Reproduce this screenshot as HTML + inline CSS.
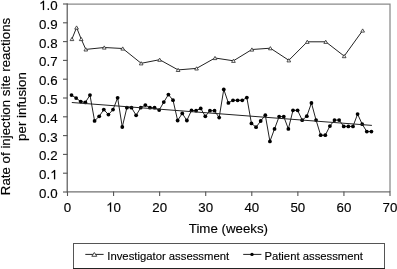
<!DOCTYPE html>
<html><head><meta charset="utf-8"><style>
html,body{margin:0;padding:0;background:#fff;}
body{width:397px;height:269px;overflow:hidden;}
svg{display:block;will-change:transform;}
.t{font-family:"Liberation Sans",sans-serif;font-size:13.3px;fill:#000;stroke:#000;stroke-width:0.15px;}
.l{font-family:"Liberation Sans",sans-serif;font-size:11.3px;fill:#000;stroke:#000;stroke-width:0.12px;}
</style></head><body>
<svg width="397" height="269" viewBox="0 0 397 269">
<path d="M67.2 4H390V191.9" fill="none" stroke="#8a8a8a" stroke-width="1.25"/>
<path d="M67.2 191.9H390" fill="none" stroke="#707070" stroke-width="1.3"/>
<path d="M67.2 3.4V192.5" fill="none" stroke="#505050" stroke-width="1.15"/>
<path d="M63 192.00H67.5" stroke="#555" stroke-width="1.1"/>
<path d="M63 173.20H67.5" stroke="#555" stroke-width="1.1"/>
<path d="M63 154.40H67.5" stroke="#555" stroke-width="1.1"/>
<path d="M63 135.60H67.5" stroke="#555" stroke-width="1.1"/>
<path d="M63 116.80H67.5" stroke="#555" stroke-width="1.1"/>
<path d="M63 98.00H67.5" stroke="#555" stroke-width="1.1"/>
<path d="M63 79.20H67.5" stroke="#555" stroke-width="1.1"/>
<path d="M63 60.40H67.5" stroke="#555" stroke-width="1.1"/>
<path d="M63 41.60H67.5" stroke="#555" stroke-width="1.1"/>
<path d="M63 22.80H67.5" stroke="#555" stroke-width="1.1"/>
<path d="M63 4.00H67.5" stroke="#555" stroke-width="1.1"/>
<path d="M67.50 191.5V196" stroke="#555" stroke-width="1.1"/>
<path d="M113.57 191.5V196" stroke="#555" stroke-width="1.1"/>
<path d="M159.64 191.5V196" stroke="#555" stroke-width="1.1"/>
<path d="M205.71 191.5V196" stroke="#555" stroke-width="1.1"/>
<path d="M251.79 191.5V196" stroke="#555" stroke-width="1.1"/>
<path d="M297.86 191.5V196" stroke="#555" stroke-width="1.1"/>
<path d="M343.93 191.5V196" stroke="#555" stroke-width="1.1"/>
<path d="M390.00 191.5V196" stroke="#555" stroke-width="1.1"/>
<text x="39.111" y="198.000" class="t">0</text><text x="46.508" y="198.000" class="t">.</text><text x="50.203" y="198.000" class="t">0</text>
<text x="39.111" y="179.200" class="t">0</text><text x="46.508" y="179.200" class="t">.</text><path transform="translate(50.203,179.200) scale(0.006494,-0.006494)" d="M763 0L583 0L583 1147L500 1075L380 1000L223 930L223 1104L370 1180L480 1270L560 1370L614 1425L763 1425Z" fill="#000" stroke="#000" stroke-width="23.1"/>
<text x="39.111" y="160.400" class="t">0</text><text x="46.508" y="160.400" class="t">.</text><text x="50.203" y="160.400" class="t">2</text>
<text x="39.111" y="141.600" class="t">0</text><text x="46.508" y="141.600" class="t">.</text><text x="50.203" y="141.600" class="t">3</text>
<text x="39.111" y="122.800" class="t">0</text><text x="46.508" y="122.800" class="t">.</text><text x="50.203" y="122.800" class="t">4</text>
<text x="39.111" y="104.000" class="t">0</text><text x="46.508" y="104.000" class="t">.</text><text x="50.203" y="104.000" class="t">5</text>
<text x="39.111" y="85.200" class="t">0</text><text x="46.508" y="85.200" class="t">.</text><text x="50.203" y="85.200" class="t">6</text>
<text x="39.111" y="66.400" class="t">0</text><text x="46.508" y="66.400" class="t">.</text><text x="50.203" y="66.400" class="t">7</text>
<text x="39.111" y="47.600" class="t">0</text><text x="46.508" y="47.600" class="t">.</text><text x="50.203" y="47.600" class="t">8</text>
<text x="39.111" y="28.800" class="t">0</text><text x="46.508" y="28.800" class="t">.</text><text x="50.203" y="28.800" class="t">9</text>
<path transform="translate(39.111,10.000) scale(0.006494,-0.006494)" d="M763 0L583 0L583 1147L500 1075L380 1000L223 930L223 1104L370 1180L480 1270L560 1370L614 1425L763 1425Z" fill="#000" stroke="#000" stroke-width="23.1"/><text x="46.508" y="10.000" class="t">.</text><text x="50.203" y="10.000" class="t">0</text>
<text x="63.802" y="211.800" class="t">0</text>
<path transform="translate(106.175,211.800) scale(0.006494,-0.006494)" d="M763 0L583 0L583 1147L500 1075L380 1000L223 930L223 1104L370 1180L480 1270L560 1370L614 1425L763 1425Z" fill="#000" stroke="#000" stroke-width="23.1"/><text x="113.571" y="211.800" class="t">0</text>
<text x="152.246" y="211.800" class="t">2</text><text x="159.643" y="211.800" class="t">0</text>
<text x="198.317" y="211.800" class="t">3</text><text x="205.714" y="211.800" class="t">0</text>
<text x="244.389" y="211.800" class="t">4</text><text x="251.786" y="211.800" class="t">0</text>
<text x="290.460" y="211.800" class="t">5</text><text x="297.857" y="211.800" class="t">0</text>
<text x="336.532" y="211.800" class="t">6</text><text x="343.929" y="211.800" class="t">0</text>
<text x="382.603" y="211.800" class="t">7</text><text x="390.000" y="211.800" class="t">0</text>
<text x="228.4" y="233.2" text-anchor="middle" class="t">Time (weeks)</text>
<text transform="translate(10.4,106.5) rotate(-90)" text-anchor="middle" class="t">Rate of injection site reactions</text>
<text transform="translate(25.7,106.5) rotate(-90)" text-anchor="middle" class="t">per infusion</text>
<polyline points="71.96,39.00 76.58,27.50 81.19,39.00 85.81,49.40 104.26,47.50 122.72,48.50 141.17,63.30 159.63,59.70 178.09,69.90 196.54,68.40 215.00,58.00 233.45,60.80 251.91,49.50 270.37,48.20 288.82,60.30 307.28,41.80 325.73,41.80 344.19,56.10 362.65,30.50" fill="none" stroke="#222" stroke-width="1"/>
<path d="M70.11 40.60L71.96 37.40L73.81 40.60Z" fill="#fff" stroke="#333" stroke-width="0.85"/>
<path d="M74.73 29.10L76.58 25.90L78.43 29.10Z" fill="#fff" stroke="#333" stroke-width="0.85"/>
<path d="M79.34 40.60L81.19 37.40L83.04 40.60Z" fill="#fff" stroke="#333" stroke-width="0.85"/>
<path d="M83.96 51.00L85.81 47.80L87.66 51.00Z" fill="#fff" stroke="#333" stroke-width="0.85"/>
<path d="M102.41 49.10L104.26 45.90L106.11 49.10Z" fill="#fff" stroke="#333" stroke-width="0.85"/>
<path d="M120.87 50.10L122.72 46.90L124.57 50.10Z" fill="#fff" stroke="#333" stroke-width="0.85"/>
<path d="M139.32 64.90L141.17 61.70L143.02 64.90Z" fill="#fff" stroke="#333" stroke-width="0.85"/>
<path d="M157.78 61.30L159.63 58.10L161.48 61.30Z" fill="#fff" stroke="#333" stroke-width="0.85"/>
<path d="M176.24 71.50L178.09 68.30L179.94 71.50Z" fill="#fff" stroke="#333" stroke-width="0.85"/>
<path d="M194.69 70.00L196.54 66.80L198.39 70.00Z" fill="#fff" stroke="#333" stroke-width="0.85"/>
<path d="M213.15 59.60L215.00 56.40L216.85 59.60Z" fill="#fff" stroke="#333" stroke-width="0.85"/>
<path d="M231.60 62.40L233.45 59.20L235.30 62.40Z" fill="#fff" stroke="#333" stroke-width="0.85"/>
<path d="M250.06 51.10L251.91 47.90L253.76 51.10Z" fill="#fff" stroke="#333" stroke-width="0.85"/>
<path d="M268.52 49.80L270.37 46.60L272.22 49.80Z" fill="#fff" stroke="#333" stroke-width="0.85"/>
<path d="M286.97 61.90L288.82 58.70L290.67 61.90Z" fill="#fff" stroke="#333" stroke-width="0.85"/>
<path d="M305.43 43.40L307.28 40.20L309.13 43.40Z" fill="#fff" stroke="#333" stroke-width="0.85"/>
<path d="M323.88 43.40L325.73 40.20L327.58 43.40Z" fill="#fff" stroke="#333" stroke-width="0.85"/>
<path d="M342.34 57.70L344.19 54.50L346.04 57.70Z" fill="#fff" stroke="#333" stroke-width="0.85"/>
<path d="M360.80 32.10L362.65 28.90L364.50 32.10Z" fill="#fff" stroke="#333" stroke-width="0.85"/>
<polyline points="71.51,95.10 76.13,98.10 80.74,101.60 85.36,102.40 89.97,95.10 94.58,120.90 99.20,116.30 103.81,109.60 108.43,114.60 113.04,109.60 117.65,97.80 122.27,127.00 126.88,107.70 131.50,107.70 136.11,115.30 140.72,107.70 145.34,105.10 149.95,107.70 154.57,107.70 159.18,110.10 163.79,102.10 168.41,94.60 173.02,100.20 177.64,120.50 182.25,113.40 186.86,120.50 191.48,110.40 196.09,110.70 200.71,108.40 205.32,116.30 209.93,110.70 214.55,110.70 219.16,117.60 223.78,89.40 228.39,102.90 233.00,100.30 237.62,100.30 242.23,100.30 246.85,97.60 251.46,123.40 256.07,127.20 260.69,121.00 265.30,115.20 269.92,141.40 274.53,128.90 279.14,116.60 283.76,116.60 288.37,128.90 292.99,110.30 297.60,110.30 302.21,120.20 306.83,116.20 311.44,103.00 316.06,120.10 320.67,135.20 325.28,135.20 329.90,126.10 334.51,120.10 339.13,120.10 343.74,126.40 348.35,126.40 352.97,126.40 357.58,114.10 362.20,124.20 366.81,131.60 371.42,131.60" fill="none" stroke="#222" stroke-width="1"/>
<circle cx="71.51" cy="95.10" r="1.9" fill="#000"/>
<circle cx="76.13" cy="98.10" r="1.9" fill="#000"/>
<circle cx="80.74" cy="101.60" r="1.9" fill="#000"/>
<circle cx="85.36" cy="102.40" r="1.9" fill="#000"/>
<circle cx="89.97" cy="95.10" r="1.9" fill="#000"/>
<circle cx="94.58" cy="120.90" r="1.9" fill="#000"/>
<circle cx="99.20" cy="116.30" r="1.9" fill="#000"/>
<circle cx="103.81" cy="109.60" r="1.9" fill="#000"/>
<circle cx="108.43" cy="114.60" r="1.9" fill="#000"/>
<circle cx="113.04" cy="109.60" r="1.9" fill="#000"/>
<circle cx="117.65" cy="97.80" r="1.9" fill="#000"/>
<circle cx="122.27" cy="127.00" r="1.9" fill="#000"/>
<circle cx="126.88" cy="107.70" r="1.9" fill="#000"/>
<circle cx="131.50" cy="107.70" r="1.9" fill="#000"/>
<circle cx="136.11" cy="115.30" r="1.9" fill="#000"/>
<circle cx="140.72" cy="107.70" r="1.9" fill="#000"/>
<circle cx="145.34" cy="105.10" r="1.9" fill="#000"/>
<circle cx="149.95" cy="107.70" r="1.9" fill="#000"/>
<circle cx="154.57" cy="107.70" r="1.9" fill="#000"/>
<circle cx="159.18" cy="110.10" r="1.9" fill="#000"/>
<circle cx="163.79" cy="102.10" r="1.9" fill="#000"/>
<circle cx="168.41" cy="94.60" r="1.9" fill="#000"/>
<circle cx="173.02" cy="100.20" r="1.9" fill="#000"/>
<circle cx="177.64" cy="120.50" r="1.9" fill="#000"/>
<circle cx="182.25" cy="113.40" r="1.9" fill="#000"/>
<circle cx="186.86" cy="120.50" r="1.9" fill="#000"/>
<circle cx="191.48" cy="110.40" r="1.9" fill="#000"/>
<circle cx="196.09" cy="110.70" r="1.9" fill="#000"/>
<circle cx="200.71" cy="108.40" r="1.9" fill="#000"/>
<circle cx="205.32" cy="116.30" r="1.9" fill="#000"/>
<circle cx="209.93" cy="110.70" r="1.9" fill="#000"/>
<circle cx="214.55" cy="110.70" r="1.9" fill="#000"/>
<circle cx="219.16" cy="117.60" r="1.9" fill="#000"/>
<circle cx="223.78" cy="89.40" r="1.9" fill="#000"/>
<circle cx="228.39" cy="102.90" r="1.9" fill="#000"/>
<circle cx="233.00" cy="100.30" r="1.9" fill="#000"/>
<circle cx="237.62" cy="100.30" r="1.9" fill="#000"/>
<circle cx="242.23" cy="100.30" r="1.9" fill="#000"/>
<circle cx="246.85" cy="97.60" r="1.9" fill="#000"/>
<circle cx="251.46" cy="123.40" r="1.9" fill="#000"/>
<circle cx="256.07" cy="127.20" r="1.9" fill="#000"/>
<circle cx="260.69" cy="121.00" r="1.9" fill="#000"/>
<circle cx="265.30" cy="115.20" r="1.9" fill="#000"/>
<circle cx="269.92" cy="141.40" r="1.9" fill="#000"/>
<circle cx="274.53" cy="128.90" r="1.9" fill="#000"/>
<circle cx="279.14" cy="116.60" r="1.9" fill="#000"/>
<circle cx="283.76" cy="116.60" r="1.9" fill="#000"/>
<circle cx="288.37" cy="128.90" r="1.9" fill="#000"/>
<circle cx="292.99" cy="110.30" r="1.9" fill="#000"/>
<circle cx="297.60" cy="110.30" r="1.9" fill="#000"/>
<circle cx="302.21" cy="120.20" r="1.9" fill="#000"/>
<circle cx="306.83" cy="116.20" r="1.9" fill="#000"/>
<circle cx="311.44" cy="103.00" r="1.9" fill="#000"/>
<circle cx="316.06" cy="120.10" r="1.9" fill="#000"/>
<circle cx="320.67" cy="135.20" r="1.9" fill="#000"/>
<circle cx="325.28" cy="135.20" r="1.9" fill="#000"/>
<circle cx="329.90" cy="126.10" r="1.9" fill="#000"/>
<circle cx="334.51" cy="120.10" r="1.9" fill="#000"/>
<circle cx="339.13" cy="120.10" r="1.9" fill="#000"/>
<circle cx="343.74" cy="126.40" r="1.9" fill="#000"/>
<circle cx="348.35" cy="126.40" r="1.9" fill="#000"/>
<circle cx="352.97" cy="126.40" r="1.9" fill="#000"/>
<circle cx="357.58" cy="114.10" r="1.9" fill="#000"/>
<circle cx="362.20" cy="124.20" r="1.9" fill="#000"/>
<circle cx="366.81" cy="131.60" r="1.9" fill="#000"/>
<circle cx="371.42" cy="131.60" r="1.9" fill="#000"/>
<path d="M71.8 102.5L371.9 125.4" stroke="#222" stroke-width="1"/>
<rect x="73.5" y="243.5" width="311" height="25" fill="#fff" stroke="#555" stroke-width="1"/>
<path d="M73 268.5H385" stroke="#222" stroke-width="1"/>
<path d="M85.3 254.4H103.6" stroke="#222" stroke-width="1"/>
<path d="M91.8 256.3L94.3 252.5L96.8 256.3Z" fill="#fff" stroke="#333" stroke-width="0.9"/>
<text x="107.3" y="259.9" class="l">Investigator assessment</text>
<path d="M243.2 254.4H261.4" stroke="#222" stroke-width="1"/>
<circle cx="252" cy="254.4" r="1.7" fill="#000"/>
<text x="264.4" y="259.9" class="l">Patient assessment</text>
</svg>
</body></html>
